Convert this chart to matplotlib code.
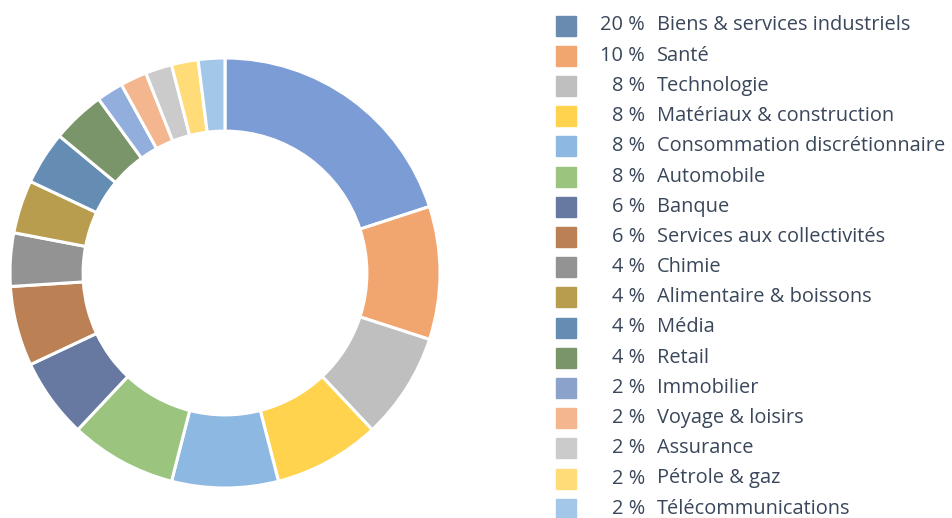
import matplotlib.pyplot as plt
from matplotlib.patches import Rectangle

# secteurs et poids (%)
sectors = ['Biens & services industriels', 'Santé', 'Technologie',
           'Matériaux & construction', 'Consommation discrétionnaire',
           'Automobile', 'Banque', 'Services aux collectivités', 'Chimie',
           'Alimentaire & boissons', 'Média', 'Retail', 'Immobilier',
           'Voyage & loisirs', 'Assurance', 'Pétrole & gaz',
           'Télécommunications']
weights = [20, 10, 8, 8, 8, 8, 6, 6, 4, 4, 4, 4, 2, 2, 2, 2, 2]
colors = ['#7B9CD4', '#F1A56F', '#BFBFBF', '#FFD34E', '#8DB8E1', '#9BC47E',
          '#6779A1', '#BB8054', '#939393', '#B89D4F', '#658CB3', '#7A9569',
          '#92AEDD', '#F4B68E', '#CBCBCB', '#FFDC78', '#A3C7E8']
legend_colors = colors.copy()
legend_colors[0] = '#6A8BB0'
legend_colors[12] = '#8BA3CB'

plt.rcParams['font.family'] = ['Open Sans', 'DejaVu Sans']
W, H = 952, 518
fig = plt.figure(figsize=(W / 100, H / 100), dpi=100)

# anneau
ax = fig.add_axes([10 / W, (H - 488) / H, 430 / W, 430 / H])
ax.pie(weights, colors=colors, startangle=90, counterclock=False, radius=1,
       wedgeprops=dict(width=0.34, edgecolor='white', linewidth=2.2))
ax.set_xlim(-1, 1)
ax.set_ylim(-1, 1)
ax.set_aspect('equal')
ax.axis('off')

# légende
lg = fig.add_axes([0, 0, 1, 1])
lg.set_xlim(0, W)
lg.set_ylim(H, 0)
lg.axis('off')
txt_color = '#3A475A'
y0, step = 25.5, 30.2
for i, (name, w) in enumerate(zip(sectors, weights)):
    y = y0 + i * step
    lg.add_patch(Rectangle((556, y - 10), 20, 20, color=legend_colors[i]))
    lg.text(645, y, f'{w} %', ha='right', va='center', fontsize=14.4, color=txt_color)
    lg.text(657, y, name, ha='left', va='center', fontsize=14.4, color=txt_color)

fig.savefig('out.png', dpi=100)
